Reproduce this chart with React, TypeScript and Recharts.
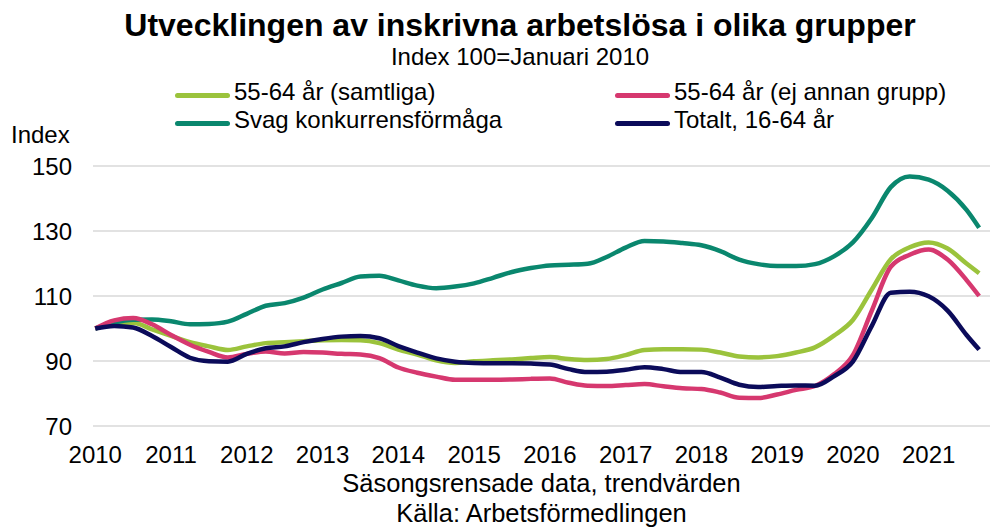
import { CartesianGrid, Line, LineChart, XAxis, YAxis } from "recharts";

const font = "'Liberation Sans', Arial, sans-serif";

// quarterly readings, Jan 2010 – Sep 2021
const dates = [
  "2010-01", "2010-04", "2010-07", "2010-10", "2011-01", "2011-04", "2011-07", "2011-10",
  "2012-01", "2012-04", "2012-07", "2012-10", "2013-01", "2013-04", "2013-07", "2013-10",
  "2014-01", "2014-04", "2014-07", "2014-10", "2015-01", "2015-04", "2015-07", "2015-10",
  "2016-01", "2016-04", "2016-07", "2016-10", "2017-01", "2017-04", "2017-07", "2017-10",
  "2018-01", "2018-04", "2018-07", "2018-10", "2019-01", "2019-04", "2019-07", "2019-10",
  "2020-01", "2020-04", "2020-07", "2020-10", "2021-01", "2021-04", "2021-07", "2021-09",
];

const samtliga = [
  100, 101.5, 101.8, 99.7, 97.7, 95.8, 94.5, 93.4, 94.5, 95.5, 95.8, 96.1, 96.4, 96.5, 96.4, 95.5,
  93.5, 92.0, 90.2, 89.4, 89.9, 90.2, 90.5, 90.9, 91.2, 90.6, 90.3, 90.6, 91.8, 93.4, 93.6, 93.6,
  93.5, 92.6, 91.4, 91.1, 91.5, 92.6, 94.2, 97.8, 102.6, 112.0, 121.3, 125.0, 126.5, 124.6, 120.0, 117.0,
];

const ejAnnan = [
  100, 102.5, 103.2, 101.3, 98.0, 95.0, 92.8, 91.1, 92.2, 92.9, 92.3, 92.8, 92.6, 92.2, 92.0, 90.9,
  88.0, 86.4, 85.2, 84.2, 84.2, 84.2, 84.3, 84.5, 84.6, 83.3, 82.4, 82.3, 82.6, 82.9, 82.2, 81.6,
  81.4, 80.3, 78.7, 78.6, 79.7, 81.1, 82.3, 85.9, 91.8, 105.5, 119.0, 122.7, 124.3, 121.2, 114.9, 110.0,
];

const svag = [
  100, 101.8, 102.7, 102.8, 102.2, 101.3, 101.4, 102.1, 104.5, 107.0, 107.8, 109.5, 112.0, 114.0, 116.0, 116.2,
  114.8, 113.2, 112.4, 112.9, 113.9, 115.6, 117.4, 118.6, 119.4, 119.6, 119.9, 122.0, 124.9, 126.9, 126.8, 126.3,
  125.6, 123.8, 121.2, 119.8, 119.2, 119.2, 119.8, 122.2, 126.5, 134.0, 143.5, 146.8, 145.8, 142.4, 136.5, 131.0,
];

const totalt = [
  100, 100.8, 100.3, 97.7, 94.3, 91.0, 89.9, 89.8, 92.2, 93.9, 94.5, 95.8, 96.8, 97.5, 97.7, 97.0,
  94.6, 92.6, 90.8, 89.8, 89.4, 89.3, 89.3, 89.2, 88.9, 87.5, 86.6, 86.7, 87.3, 88.1, 87.5, 86.6,
  86.6, 84.9, 82.7, 82.0, 82.3, 82.5, 82.4, 85.3, 89.8, 100.8, 111.0, 111.3, 109.9, 105.5, 98.0, 93.5,
];

const yearTicks = [2010, 2011, 2012, 2013, 2014, 2015, 2016, 2017, 2018, 2019, 2020, 2021];
const valueTicks = [70, 90, 110, 130, 150];

const series = [
  { key: "samtliga", name: "55-64 år (samtliga)", color: "#9bc33c" },
  { key: "svag", name: "Svag konkurrensförmåga", color: "#0a876e" },
  { key: "ejAnnan", name: "55-64 år (ej annan grupp)", color: "#d6386f" },
  { key: "totalt", name: "Totalt, 16-64 år", color: "#0b0b5a" },
];

const data = dates.map((d, i) => {
  const [y, m] = d.split("-").map(Number);
  return { t: y + (m - 1) / 12, samtliga: samtliga[i], ejAnnan: ejAnnan[i], svag: svag[i], totalt: totalt[i] };
});

function LegendItem({ left, top, color, label }: { left: number; top: number; color: string; label: string }) {
  return (
    <div style={{ position: "absolute", left, top, display: "flex", alignItems: "flex-start", whiteSpace: "nowrap" }}>
      <div style={{ width: 55, height: 5, borderRadius: 3, background: color, marginTop: 15, marginRight: 4 }} />
      <span style={{ fontSize: 24, lineHeight: "28px" }}>{label}</span>
    </div>
  );
}

export default function App() {
  return (
    <div style={{ position: "absolute", left: 0, top: 0, width: 993, height: 527, background: "#fff", fontFamily: font, color: "#000" }}>
      <div style={{ position: "absolute", left: 0, width: 1040, top: 7, textAlign: "center", fontSize: 32, fontWeight: "bold", lineHeight: "36px" }}>
        Utvecklingen av inskrivna arbetslösa i olika grupper
      </div>
      <div style={{ position: "absolute", left: 0, width: 1040, top: 43, textAlign: "center", fontSize: 24, lineHeight: "28px" }}>
        Index 100=Januari 2010
      </div>
      <LegendItem left={175} top={78} color={series[0].color} label={series[0].name} />
      <LegendItem left={615} top={78} color={series[2].color} label={series[2].name} />
      <LegendItem left={175} top={106} color={series[1].color} label={series[1].name} />
      <LegendItem left={615} top={106} color={series[3].color} label={series[3].name} />
      <div style={{ position: "absolute", left: 11, top: 121, fontSize: 24, lineHeight: "28px" }}>Index</div>
      <LineChart width={993} height={527} data={data} margin={{ top: 166, right: 3, bottom: 71, left: 0 }}>
        <CartesianGrid horizontal vertical={false} stroke="#d9d9d9" strokeWidth={1.5} />
        <XAxis
          dataKey="t"
          type="number"
          domain={[2009.97, 2021.81]}
          ticks={yearTicks}
          height={30}
          axisLine={false}
          tickLine={false}
          tickSize={0}
          tickMargin={20}
          tick={{ fontSize: 24, fill: "#000", fontFamily: font }}
        />
        <YAxis
          type="number"
          domain={[70, 150]}
          ticks={valueTicks}
          width={93}
          axisLine={false}
          tickLine={false}
          tickSize={0}
          tickMargin={21}
          allowDataOverflow
          tick={{ fontSize: 24, fill: "#000", fontFamily: font }}
        />
        {series.map((s) => (
          <Line
            key={s.key}
            dataKey={s.key}
            name={s.name}
            type="monotone"
            stroke={s.color}
            strokeWidth={4.5}
            dot={false}
            isAnimationActive={false}
          />
        ))}
      </LineChart>
      <div style={{ position: "absolute", left: 93, width: 897, top: 468, textAlign: "center", fontSize: 25.5, lineHeight: "30px" }}>
        Säsongsrensade data, trendvärden
      </div>
      <div style={{ position: "absolute", left: 93, width: 897, top: 498, textAlign: "center", fontSize: 25.5, lineHeight: "30px" }}>
        Källa: Arbetsförmedlingen
      </div>
    </div>
  );
}
